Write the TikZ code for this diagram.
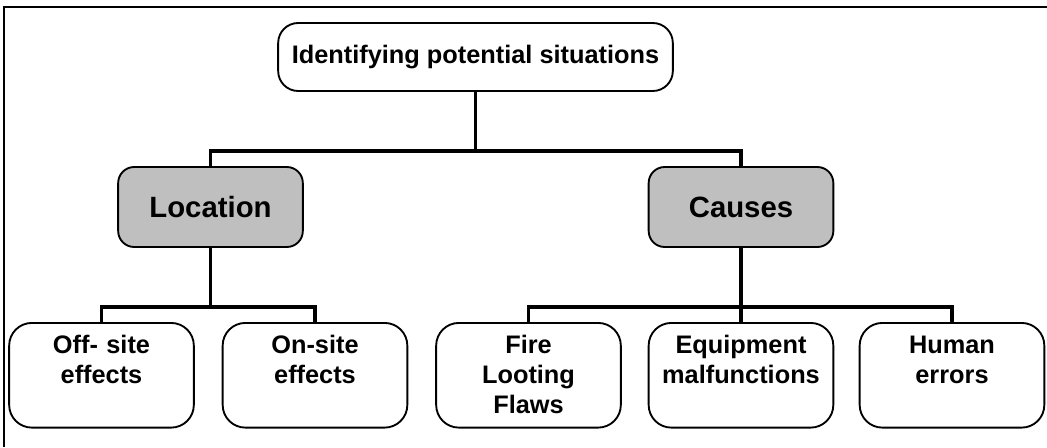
\documentclass[tikz,border=0pt]{standalone}
\usepackage{fontspec}
\setmainfont{Liberation Sans}

\begin{document}
\begin{tikzpicture}[x=0.75pt,y=-0.75pt,
		box/.style={draw, line width=1.4pt, inner sep=0pt, align=center, font=\bfseries\fontsize{19}{22.5}\selectfont},
		topbox/.style={box, rounded corners=15pt, minimum width=296pt, minimum height=51pt},
		midbox/.style={box, fill=black!25, rounded corners=12pt, minimum width=138.5pt, minimum height=60pt, font=\bfseries\fontsize{22}{26}\selectfont},
		lowbox/.style={box, rounded corners=17pt, anchor=north, text width=138.5pt, text height=23pt, text depth=55.5pt},
		conn/.style={line width=2.3pt}]
				\useasboundingbox (0,0) rectangle (1047,447);
				\draw[line width=1.1pt] (4,447) |- (1047,7);
				\node[topbox] (top) at (475.5,57) {Identifying potential situations};
				\node[midbox] (loc) at (210.5,207) {Location};
				\node[midbox] (cau) at (741,207) {Causes};
				\node[lowbox] (off) at (101.5,322) {Off- site\\effects};
				\node[lowbox] (on) at (315,322) {On-site\\effects};
				\node[lowbox] (fire) at (528.5,322) {Fire\\Looting\\Flaws};
				\node[lowbox] (equip) at (741,322) {Equipment\\malfunctions};
				\node[lowbox] (human) at (952,322) {Human\\errors};
				\coordinate (b1) at (475.5,151);
				\coordinate (b2) at (210.5,307);
				\coordinate (b3) at (741,307);
				\draw[conn] (top) -- (b1);
				\draw[conn] (loc.north) |- (b1) -| (cau.north);
				\draw[conn] (loc) -- (b2);
				\draw[conn] (off.north) |- (b2) -| (on.north);
				\draw[conn] (cau) -- (equip);
				\draw[conn] (fire.north) |- (b3) -| (human.north);
			\end{tikzpicture}
\end{document}
